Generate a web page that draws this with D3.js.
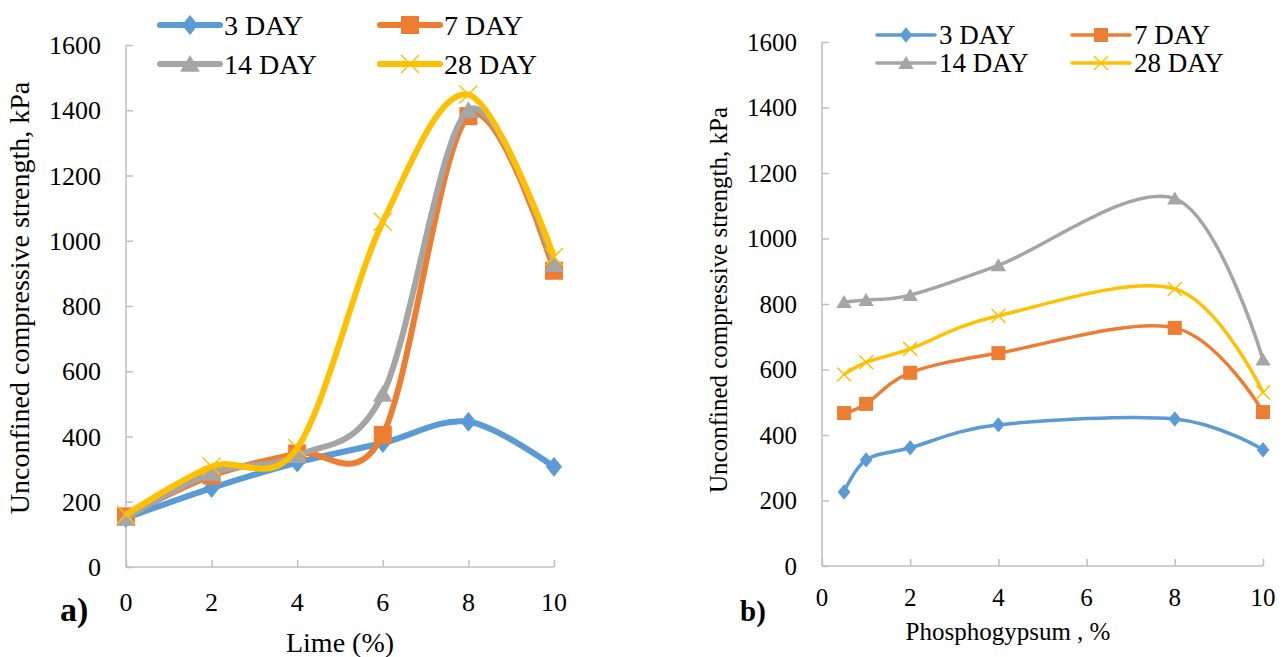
<!DOCTYPE html>
<html>
<head>
<meta charset="utf-8">
<script src="https://cdn.jsdelivr.net/npm/d3@7"></script>
<style>
  body { margin: 0; background: #fff; }
  text { font-family: "Liberation Serif", "Times New Roman", serif; fill: #000; }
</style>
</head>
<body>
<script>
// data
var seriesNames = ["3 DAY", "7 DAY", "14 DAY", "28 DAY"];
var seriesColors = ["#5B9BD5", "#ED7D31", "#A5A5A5", "#FFC000"];
var seriesSymbols = ["diamond", "square", "triangle", "cross"];

var limeX = [0, 2, 4, 6, 8, 10];
var lime3 = [150, 242, 320, 380, 445, 307];
var lime7 = [155, 280, 348, 405, 1382, 908];
var lime14 = [150, 288, 342, 530, 1400, 928];
var lime28 = [160, 308, 365, 1058, 1448, 950];

var phosX = [0.5, 1, 2, 4, 8, 10];
var phos3 = [226, 324, 361, 431, 449, 355];
var phos7 = [467, 495, 590, 650, 727, 470];
var phos14 = [806, 812, 827, 918, 1122, 630];
var phos28 = [585, 622, 663, 764, 846, 530];

var yTicks = [0, 200, 400, 600, 800, 1000, 1200, 1400, 1600];
var xTicks = [0, 2, 4, 6, 8, 10];

var svg = d3.select("body").append("svg")
  .attr("width", 1287)
  .attr("height", 657);

function symbolPath(kind, s) {
  if (kind == "diamond") return "M0," + (-s * 1.1) + "L" + (s * 0.9) + ",0L0," + (s * 1.1) + "L" + (-s * 0.9) + ",0Z";
  if (kind == "square") return "M" + (-s) + "," + (-s) + "h" + (2 * s) + "v" + (2 * s) + "h" + (-2 * s) + "Z";
  if (kind == "triangle") return "M0," + (-s) + "L" + (s * 1.1) + "," + (s * 0.85) + "L" + (-s * 1.1) + "," + (s * 0.85) + "Z";
  return "M" + (-s) + "," + (-s) + "L" + s + "," + s + "M" + s + "," + (-s) + "L" + (-s) + "," + s;
}

function drawMarker(g, kind, color, x, y, s) {
  var p = g.append("path")
    .attr("transform", "translate(" + x + "," + y + ")")
    .attr("d", symbolPath(kind, s));
  if (kind == "cross") p.attr("fill", "none").attr("stroke", color).attr("stroke-width", 1.5);
  else p.attr("fill", color);
}

// one panel
function drawPanel(p) {
  var x = d3.scaleLinear().domain([0, 10]).range([p.left, p.right]);
  var y = d3.scaleLinear().domain([0, 1600]).range([p.bottom, p.top]);
  var g = svg.append("g");

  var yAxis = g.append("g")
    .attr("transform", "translate(" + p.left + ",0)")
    .call(d3.axisRight(y).tickValues(yTicks).tickSize(7).tickFormat(""));
  var xAxis = g.append("g")
    .attr("transform", "translate(0," + p.bottom + ")")
    .call(d3.axisTop(x).tickValues(xTicks).tickSize(7).tickFormat(""));
  g.selectAll(".domain, .tick line").attr("stroke", "#BFBFBF").attr("stroke-width", 1.5);
  yAxis.select(".domain").attr("d", "M0," + p.top + "V" + p.bottom);
  xAxis.select(".domain").attr("d", "M" + p.left + ",0H" + p.right);

  g.selectAll(".ylab").data(yTicks).enter().append("text")
    .attr("x", p.left - 25)
    .attr("y", d => y(d))
    .attr("dy", "0.35em")
    .attr("text-anchor", "end")
    .style("font-size", p.font + "px")
    .text(d => d);

  g.selectAll(".xlab").data(xTicks).enter().append("text")
    .attr("x", d => x(d))
    .attr("y", p.bottom + p.xlabOff)
    .attr("text-anchor", "middle")
    .style("font-size", p.font + "px")
    .text(d => d);

  g.append("text")
    .attr("transform", "translate(" + p.ytitleX + "," + p.ytitleY + ") rotate(-90)")
    .attr("text-anchor", "middle")
    .style("font-size", p.titleFont + "px")
    .text("Unconfined compressive strength, kPa");

  g.append("text")
    .attr("x", p.xtitleX)
    .attr("y", p.xtitleY)
    .attr("text-anchor", "middle")
    .style("font-size", p.titleFont + "px")
    .text(p.xtitle);

  g.append("text")
    .attr("x", p.tagX)
    .attr("y", 621)
    .style("font-size", p.tagFont + "px")
    .style("font-weight", "bold")
    .text(p.tag);

  var line = d3.line()
    .x(d => x(d[0]))
    .y(d => y(d[1]))
    .curve(d3.curveCatmullRom.alpha(0));

  p.series.forEach(function(vals, i) {
    var pts = p.xs.map((v, j) => [v, vals[j]]);
    g.append("path")
      .datum(pts)
      .attr("d", line)
      .attr("fill", "none")
      .attr("stroke", seriesColors[i])
      .attr("stroke-width", p.lineW)
      .attr("stroke-linejoin", "round");
    pts.forEach(function(pt) {
      drawMarker(g, seriesSymbols[i], seriesColors[i], x(pt[0]), y(pt[1]), p.mark);
    });
  });

  // legend
  seriesNames.forEach(function(name, i) {
    var lx = p.legX[i % 2], ly = p.legY[Math.floor(i / 2)];
    g.append("line")
      .attr("x1", lx).attr("x2", lx + p.legLen)
      .attr("y1", ly).attr("y2", ly)
      .attr("stroke", seriesColors[i])
      .attr("stroke-width", p.lineW)
      .attr("stroke-linecap", "round");
    drawMarker(g, seriesSymbols[i], seriesColors[i], lx + p.legLen / 2, ly, p.mark);
    g.append("text")
      .attr("x", lx + p.legLen + 4)
      .attr("y", ly)
      .attr("dy", "0.35em")
      .style("font-size", p.legFont + "px")
      .text(name);
  });
}

drawPanel({
  left: 126, right: 554, top: 45, bottom: 567,
  xs: limeX, series: [lime3, lime7, lime14, lime28],
  font: 26, titleFont: 28, legFont: 28, lineW: 6, mark: 9, xlabOff: 44,
  ytitleX: 29, ytitleY: 298, xtitleX: 340, xtitleY: 652, xtitle: "Lime (%)",
  tag: "a)", tagX: 60, tagFont: 34,
  legX: [160, 380], legY: [25, 64], legLen: 60
});

drawPanel({
  left: 822, right: 1263, top: 42, bottom: 566,
  xs: phosX, series: [phos3, phos7, phos14, phos28],
  font: 25, titleFont: 25, legFont: 27, lineW: 3.5, mark: 7, xlabOff: 40,
  ytitleX: 727, ytitleY: 300, xtitleX: 1008, xtitleY: 640, xtitle: "Phosphogypsum , %",
  tag: "b)", tagX: 740, tagFont: 29,
  legX: [877, 1072], legY: [35, 63], legLen: 58
});
</script>
</body>
</html>
